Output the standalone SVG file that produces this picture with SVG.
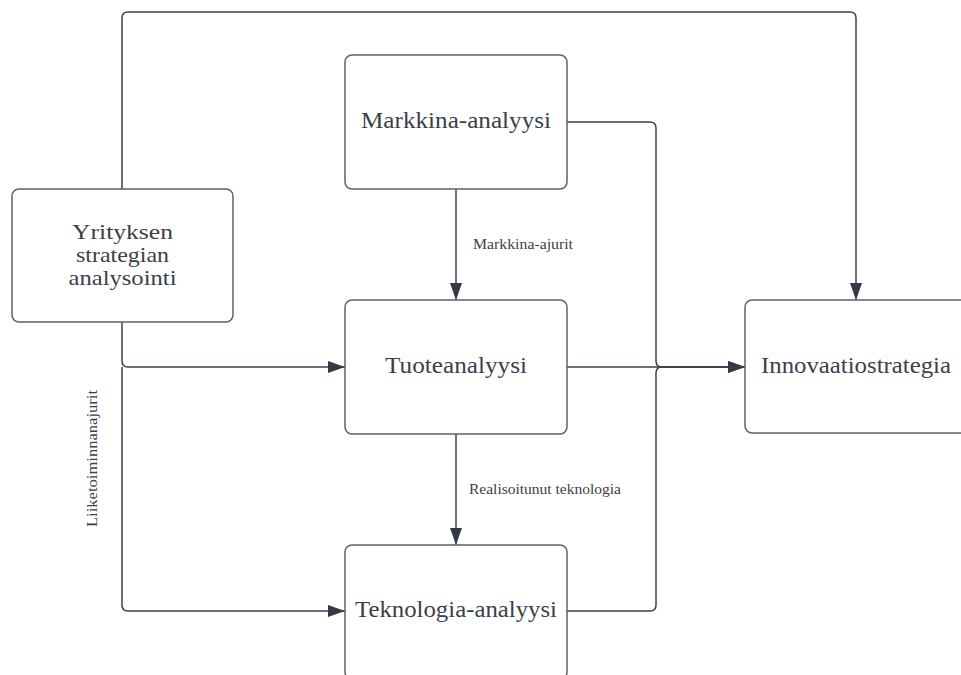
<svg xmlns="http://www.w3.org/2000/svg" width="961" height="675" viewBox="0 0 961 675">
<style>
.node rect{fill:#ffffff;stroke:#5f6269;stroke-width:1.5}
.node text{font-family:"Liberation Serif","Times New Roman",serif;font-size:24px;fill:#3a3f4a;text-anchor:middle}
.node text.sm{font-size:22px}
.conn path{fill:none;stroke:#3b414b;stroke-width:1.5}
.lbl{font-family:"Liberation Serif","Times New Roman",serif;font-size:15px;fill:#3a3f4a}
</style>
<defs>
<marker id="arr" markerUnits="userSpaceOnUse" markerWidth="18" markerHeight="12" refX="17" refY="6" orient="auto">
<path d="M0,0 L17,6 L0,12 Z" fill="#333a45"/>
</marker>
</defs>
<rect width="961" height="675" fill="#ffffff"/>
<g id="connectors" class="conn">
<path d="M122,189 V18 Q122,12 128,12 H850 Q856,12 856,18 V300" marker-end="url(#arr)"/>
<path d="M567,122 H650 Q656,122 656,128 V361 Q656,367 662,367 H745" marker-end="url(#arr)"/>
<path d="M567,611 H650 Q656,611 656,605 V373 Q656,367 662,367 H745"/>
<path d="M567,367 H745" marker-end="url(#arr)"/>
<path d="M456,189 V300" marker-end="url(#arr)"/>
<path d="M456,434 V545" marker-end="url(#arr)"/>
<path d="M122,322 V361 Q122,367 128,367 H345" marker-end="url(#arr)"/>
<path d="M122,367 V605 Q122,611 128,611 H345" marker-end="url(#arr)"/>
</g>
<g id="labels">
<text class="lbl" x="473" y="249" textLength="100" lengthAdjust="spacingAndGlyphs">Markkina-ajurit</text>
<text class="lbl" x="469" y="494" textLength="152" lengthAdjust="spacingAndGlyphs">Realisoitunut teknologia</text>
<text class="lbl" x="0" y="0" transform="translate(97,527) rotate(-90)" textLength="137" lengthAdjust="spacingAndGlyphs">Liiketoiminnanajurit</text>
</g>
<g id="node-yrityksen" class="node">
<rect x="12" y="189" width="221" height="133" rx="7"/>
<text class="sm" x="122.5" y="239" textLength="101" lengthAdjust="spacingAndGlyphs">Yrityksen</text>
<text class="sm" x="122.5" y="262" textLength="93" lengthAdjust="spacingAndGlyphs">strategian</text>
<text class="sm" x="122.5" y="285" textLength="108" lengthAdjust="spacingAndGlyphs">analysointi</text>
</g>
<g id="node-markkina" class="node">
<rect x="345" y="55" width="222" height="134" rx="7"/>
<text x="456" y="128" textLength="190" lengthAdjust="spacingAndGlyphs">Markkina-analyysi</text>
</g>
<g id="node-tuote" class="node">
<rect x="345" y="300" width="222" height="134" rx="7"/>
<text x="456" y="373" textLength="142" lengthAdjust="spacingAndGlyphs">Tuoteanalyysi</text>
</g>
<g id="node-teknologia" class="node">
<rect x="345" y="545" width="222" height="134" rx="7"/>
<text x="456" y="617" textLength="202" lengthAdjust="spacingAndGlyphs">Teknologia-analyysi</text>
</g>
<g id="node-innovaatio" class="node">
<rect x="745" y="300" width="222" height="133" rx="7"/>
<text x="856" y="373" textLength="190" lengthAdjust="spacingAndGlyphs">Innovaatiostrategia</text>
</g>
</svg>
